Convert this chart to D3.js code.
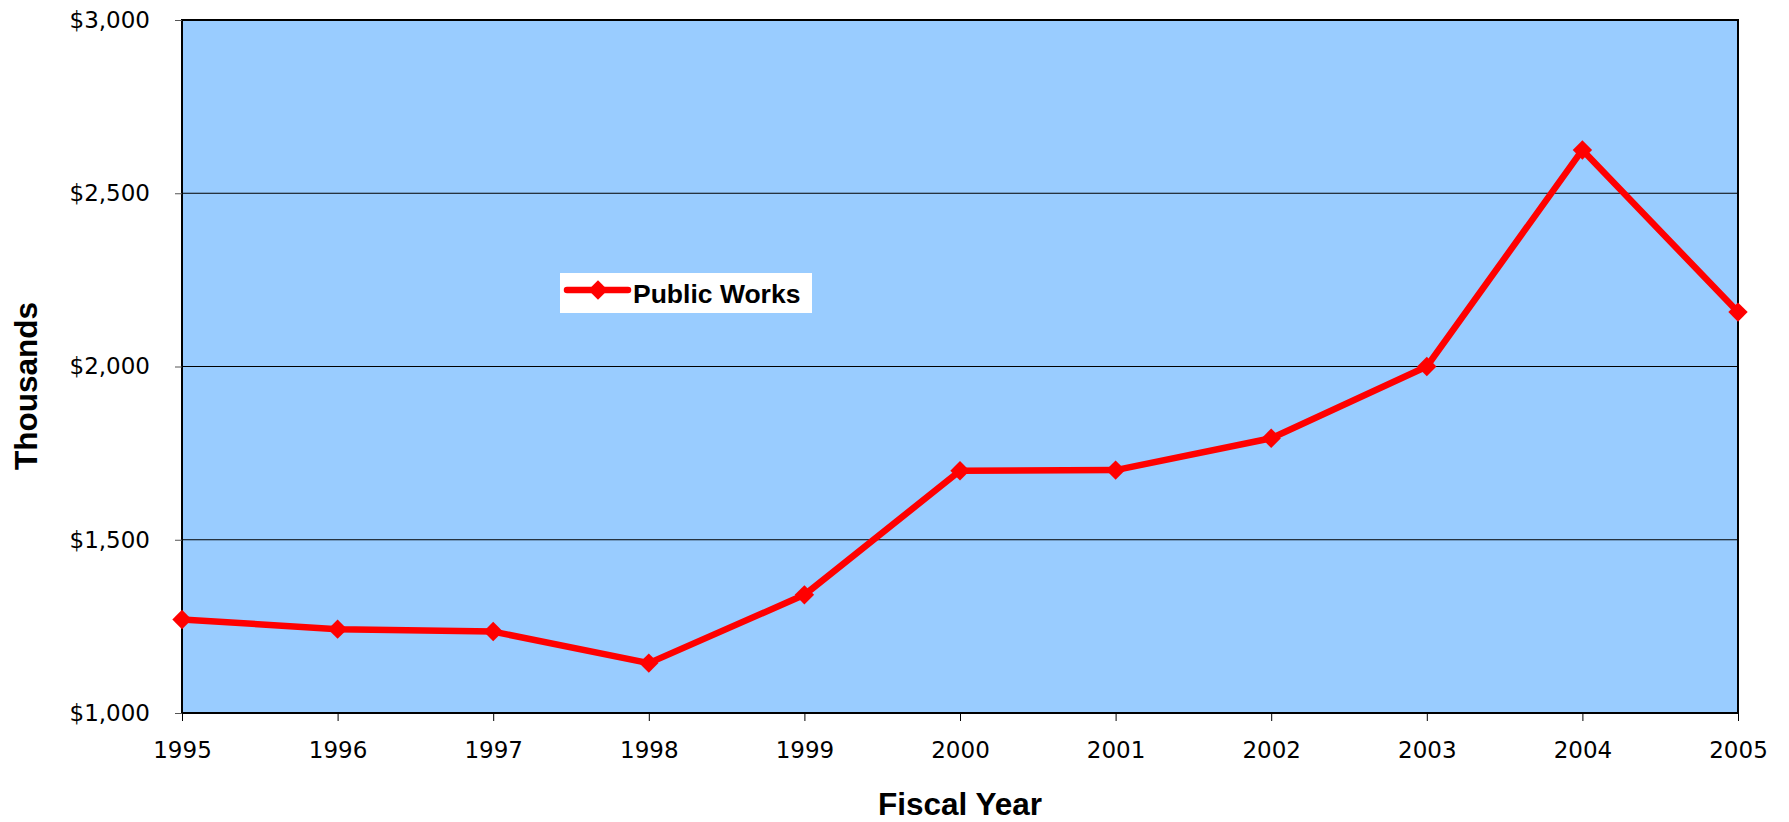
<!DOCTYPE html>
<html>
<head>
<meta charset="utf-8">
<script src="https://cdn.jsdelivr.net/npm/d3@7"></script>
<style>
  body { margin: 0; background: #fff; }
</style>
</head>
<body>
<div id="chart"></div>
<script>
// data (thousands of dollars)
const years = [1995, 1996, 1997, 1998, 1999, 2000, 2001, 2002, 2003, 2004, 2005];
const publicWorks = [1270, 1242, 1235, 1144, 1341, 1699, 1701, 1793, 2000, 2625, 2157];
const yTicks = [1000, 1500, 2000, 2500, 3000];
const seriesName = "Public Works";

const W = 1789, H = 822;
const mar = {top: 20, right: 51, bottom: 109, left: 182};

const svg = d3.select("#chart").append("svg")
    .attr("width", W)
    .attr("height", H);

const x = d3.scalePoint()
    .domain(years)
    .range([mar.left, W - mar.right]);

const y = d3.scaleLinear()
    .domain([1000, 3000])
    .range([H - mar.bottom, mar.top]);

// plot background
svg.append("rect")
    .attr("x", mar.left)
    .attr("y", mar.top)
    .attr("width", W - mar.right - mar.left)
    .attr("height", H - mar.bottom - mar.top)
    .attr("fill", "#99ccff");

// gridlines
svg.append("g")
    .selectAll("line")
    .data(yTicks.slice(1, -1))
    .join("line")
    .attr("x1", mar.left)
    .attr("x2", W - mar.right)
    .attr("y1", d => y(d))
    .attr("y2", d => y(d))
    .attr("stroke", "#000")
    .attr("stroke-width", 1);

// border
svg.append("rect")
    .attr("x", mar.left)
    .attr("y", mar.top)
    .attr("width", W - mar.right - mar.left)
    .attr("height", H - mar.bottom - mar.top)
    .attr("fill", "none")
    .attr("stroke", "#000")
    .attr("stroke-width", 2);

// y axis
const yAxis = svg.append("g")
    .attr("transform", "translate(" + mar.left + ",0)")
    .call(d3.axisLeft(y)
        .tickValues(yTicks)
        .tickSize(7)
        .tickPadding(25)
        .tickFormat(d => "$" + d3.format(",")(d)));
yAxis.select(".domain").remove();
yAxis.selectAll("line").attr("stroke", "#555");
yAxis.selectAll("text")
    .attr("font-family", "DejaVu Sans, sans-serif")
    .attr("font-size", 23)
    .attr("fill", "#000");

// x axis
const xAxis = svg.append("g")
    .attr("transform", "translate(0," + (H - mar.bottom) + ")")
    .call(d3.axisBottom(x)
        .tickSize(8)
        .tickPadding(21));
xAxis.select(".domain").remove();
xAxis.selectAll("line").attr("stroke", "#000");
xAxis.selectAll("text")
    .attr("font-family", "DejaVu Sans, sans-serif")
    .attr("font-size", 23)
    .attr("fill", "#000");

// axis titles
svg.append("text")
    .attr("x", (mar.left + W - mar.right) / 2)
    .attr("y", 815)
    .attr("text-anchor", "middle")
    .attr("font-family", "Liberation Sans, Arial, sans-serif")
    .attr("font-weight", "bold")
    .attr("font-size", 31.5)
    .text("Fiscal Year");

svg.append("text")
    .attr("transform", "translate(37,386) rotate(-90)")
    .attr("text-anchor", "middle")
    .attr("font-family", "Liberation Sans, Arial, sans-serif")
    .attr("font-weight", "bold")
    .attr("font-size", 31.5)
    .text("Thousands");

// the series
const pts = years.map((d, i) => ({year: d, value: publicWorks[i]}));

const line = d3.line()
    .x(d => x(d.year))
    .y(d => y(d.value));

svg.append("path")
    .datum(pts)
    .attr("d", line)
    .attr("fill", "none")
    .attr("stroke", "#ff0000")
    .attr("stroke-width", 6.5)
    .attr("stroke-linejoin", "round");

const diamond = d3.symbol().type(d3.symbolDiamond2).size(240);

svg.append("g")
    .selectAll("path")
    .data(pts)
    .join("path")
    .attr("transform", d => "translate(" + x(d.year) + "," + y(d.value) + ")")
    .attr("d", diamond)
    .attr("fill", "#ff0000");

// legend
const lg = svg.append("g").attr("transform", "translate(560,273)");
lg.append("rect")
    .attr("width", 252)
    .attr("height", 40)
    .attr("fill", "#fff");
lg.append("line")
    .attr("x1", 7).attr("x2", 68)
    .attr("y1", 17).attr("y2", 17)
    .attr("stroke", "#ff0000")
    .attr("stroke-width", 6.5)
    .attr("stroke-linecap", "round");
lg.append("path")
    .attr("transform", "translate(38,17)")
    .attr("d", diamond)
    .attr("fill", "#ff0000");
lg.append("text")
    .attr("x", 73)
    .attr("y", 30)
    .attr("font-family", "Liberation Sans, Arial, sans-serif")
    .attr("font-weight", "bold")
    .attr("font-size", 26.5)
    .text(seriesName);
</script>
</body>
</html>
